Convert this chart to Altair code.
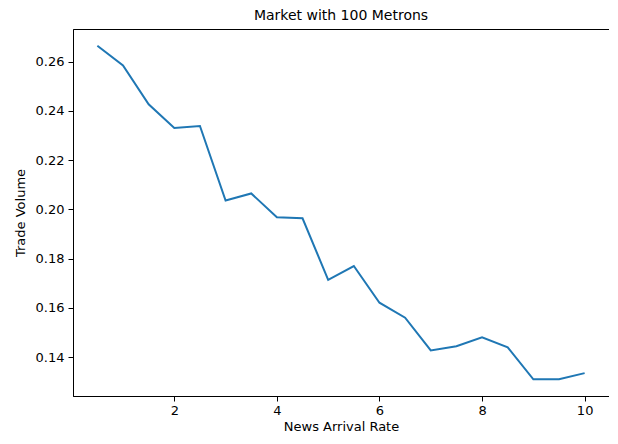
import altair as alt
import pandas as pd

news_rate = [0.5, 1.0, 1.5, 2.0, 2.5, 3.0, 3.5, 4.0, 4.5, 5.0,
             5.5, 6.0, 6.5, 7.0, 7.5, 8.0, 8.5, 9.0, 9.5, 10.0]
trade_volume = [0.2665, 0.2585, 0.2427, 0.2331, 0.2339, 0.2036, 0.2065, 0.1968, 0.1964, 0.1714,
                0.1770, 0.1621, 0.1560, 0.1427, 0.1444, 0.1480, 0.1440, 0.1310, 0.1310, 0.1335]
x_ticks = [2, 4, 6, 8, 10]
y_ticks = [0.14, 0.16, 0.18, 0.20, 0.22, 0.24, 0.26]

df = pd.DataFrame({"x": news_rate, "y": trade_volume})

font = "DejaVu Sans"

chart = alt.Chart(df).mark_line(color="#1f77b4", strokeWidth=2).encode(
    x=alt.X("x:Q", scale=alt.Scale(domain=[0.025, 10.475], nice=False, zero=False),
            axis=alt.Axis(values=x_ticks, format="d", title="News Arrival Rate",
                          titlePadding=3, labelPadding=3)),
    y=alt.Y("y:Q", scale=alt.Scale(domain=[0.1242, 0.2733], nice=False, zero=False),
            axis=alt.Axis(values=y_ticks, format=".2f", title="Trade Volume",
                          titlePadding=8, labelPadding=4)),
).properties(
    width=536,
    height=367,
    title=alt.TitleParams("Market with 100 Metrons", fontSize=14, font=font,
                          fontWeight="normal", color="black", offset=6),
    autosize=alt.AutoSizeParams(type="pad"),
    padding={"left": 6, "top": 1, "right": 0, "bottom": 0},
).configure_axis(
    grid=False,
    domainColor="black",
    domainWidth=1,
    tickColor="black",
    tickSize=5,
    tickWidth=1,
    labelFont=font,
    labelFontSize=13,
    labelColor="black",
    titleFont=font,
    titleFontSize=13,
    titleFontWeight="normal",
    titleColor="black",
).configure_view(
    stroke="black",
    strokeWidth=1,
)

chart.save("out.html", embed_options={"renderer": "svg", "actions": False})
